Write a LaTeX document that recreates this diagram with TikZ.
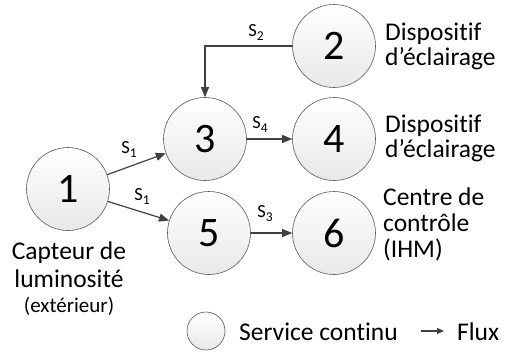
\documentclass[tikz,border=0pt]{standalone}
\usepackage{fontspec}
\setmainfont{Carlito}[RawFeature={-liga;-clig;-calt;-dlig}]
\usetikzlibrary{arrows.meta}
\newcommand{\flowname}[1]{S\raisebox{-4pt}{\fontsize{13.5}{14}\selectfont #1}}
\begin{document}
\begin{tikzpicture}[x=1pt,y=-1pt,
  svc/.style={circle,draw=black!65,line width=0.6pt,top color=white,bottom color=black!9,
    minimum size=83pt,inner sep=0pt,font=\fontsize{42}{42}\selectfont},
  legsvc/.style={svc,minimum size=38pt},
  flow/.style={draw=black!75,line width=1.2pt,-{Triangle[length=10pt,width=8pt]}},
  legflow/.style={draw=black!75,line width=1.2pt,-{Triangle[length=7pt,width=6pt]}},
  txt/.style={font=\fontsize{25.5}{26}\selectfont,anchor=base west,inner sep=0pt},
  ctxt/.style={font=\fontsize{25.5}{26}\selectfont,anchor=base,inner sep=0pt},
  stxt/.style={font=\fontsize{21}{22}\selectfont,anchor=base,inner sep=0pt},
  slbl/.style={font=\fontsize{18.5}{19}\selectfont,inner sep=0pt}]
\useasboundingbox (0,0) rectangle (514,351);

% service nodes
\node[svc] (c1) at (68,189) {1};
\node[svc] (c2) at (334,46) {2};
\node[svc] (c3) at (205,139) {3};
\node[svc] (c4) at (334,139) {4};
\node[svc] (c5) at (209,233) {5};
\node[svc] (c6) at (334,233) {6};

% flows
\draw[flow] (c1) -- (c3);
\draw[flow] (c1) -- (c5);
\draw[flow] (c2.west) -| (c3.north);
\draw[flow] (c3) -- (c4);
\draw[flow] (c5) -- (c6);

% flow labels
\node[slbl] (s1a) at (129,149) {\flowname{1}};
\node[slbl] (s1b) at (142,196) {\flowname{1}};
\node[slbl] (s2) at (256,32) {\flowname{2}};
\node[slbl] (s4) at (260,124) {\flowname{4}};
\node[slbl] (s3) at (265,214) {\flowname{3}};

% descriptions
\node[ctxt] (l1a) at (69,259) {Capteur de};
\node[ctxt] (l1b) at (69,287) {luminosité};
\node[stxt] (l1c) at (69,312) {(extérieur)};

\node[txt] (l2a) at (385,40) {Dispositif};
\node[txt] (l2b) at (385,65) {d’éclairage};

\node[txt] (l4a) at (385,132) {Dispositif};
\node[txt] (l4b) at (385,157) {d’éclairage};

\node[txt] (l6a) at (383,205) {Centre de};
\node[txt] (l6b) at (383,231) {contrôle};
\node[txt] (l6c) at (383,257) {(IHM)};

% legend
\node[legsvc] (lc) at (206,331) {};
\node[txt] (lt1) at (239,340) {Service continu};
\coordinate (la) at (421,331);
\coordinate (lb) at (444,331);
\draw[legflow] (la) -- (lb);
\node[txt] (lt2) at (457,340) {Flux};
\end{tikzpicture}
\end{document}
